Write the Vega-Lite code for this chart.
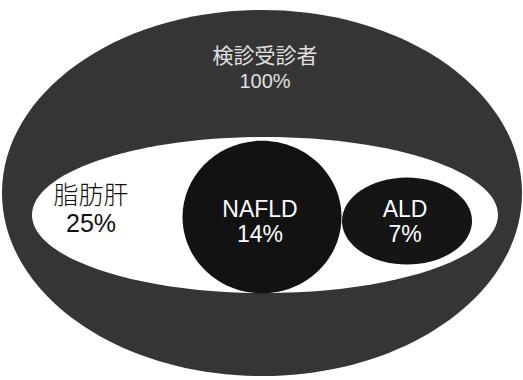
{
  "$schema": "https://vega.github.io/schema/vega-lite/v6.json",
  "width": 523,
  "height": 380,
  "padding": 0,
  "autosize": {"type": "fit", "contains": "padding"},
  "background": "white",
  "config": {"view": {"stroke": null}},
  "data": {
    "values": [
      {"group": "検診受診者", "pct": "100%", "cx": 262, "cy": 193, "tx": 265, "ty": 63},
      {"group": "脂肪肝", "pct": "25%", "cx": 265, "cy": 215, "tx": 91, "ty": 204},
      {"group": "NAFLD", "pct": "14%", "cx": 262, "cy": 217, "tx": 260, "ty": 217},
      {"group": "ALD", "pct": "7%", "cx": 407, "cy": 221, "tx": 405, "ty": 217}
    ]
  },
  "encoding": {
    "x": {"field": "cx", "type": "quantitative", "scale": {"domain": [0, 523], "nice": false, "zero": false}, "axis": null},
    "y": {"field": "cy", "type": "quantitative", "scale": {"domain": [380, 0], "nice": false, "zero": false}, "axis": null}
  },
  "layer": [
    {
      "transform": [{"filter": "datum.group === '検診受診者'"}],
      "mark": {"type": "point", "filled": true, "fill": "#353535", "stroke": null, "opacity": 1, "size": 270400, "shape": "M-1,0A1,0.704 0 1,0 1,0A1,0.704 0 1,0 -1,0"}
    },
    {
      "transform": [{"filter": "datum.group === '脂肪肝'"}],
      "mark": {"type": "point", "filled": true, "fill": "#ffffff", "stroke": null, "opacity": 1, "size": 217156, "shape": "M-1,0A1,0.335 0 1,0 1,0A1,0.335 0 1,0 -1,0"}
    },
    {
      "transform": [{"filter": "datum.group === 'NAFLD'"}],
      "mark": {"type": "point", "filled": true, "fill": "#121212", "stroke": null, "opacity": 1, "size": 25281, "shape": "M-1,0A1,0.96 0 1,0 1,0A1,0.96 0 1,0 -1,0"}
    },
    {
      "transform": [{"filter": "datum.group === 'ALD'"}],
      "mark": {"type": "point", "filled": true, "fill": "#151515", "stroke": null, "opacity": 1, "size": 16900, "shape": "M-1,0A1,0.67 0 1,0 1,0A1,0.67 0 1,0 -1,0"}
    },
    {
      "transform": [{"filter": "datum.group === '検診受診者'"}],
      "mark": {"type": "text", "font": "Noto Sans CJK JP", "fontSize": 21, "color": "#e0e0e0", "baseline": "alphabetic"},
      "encoding": {"x": {"field": "tx", "type": "quantitative"}, "y": {"field": "ty", "type": "quantitative"}, "text": {"field": "group"}}
    },
    {
      "transform": [{"filter": "datum.group === '検診受診者'"}],
      "mark": {"type": "text", "font": "Liberation Sans", "fontSize": 20, "color": "#e0e0e0", "baseline": "alphabetic", "dy": 25},
      "encoding": {"x": {"field": "tx", "type": "quantitative"}, "y": {"field": "ty", "type": "quantitative"}, "text": {"field": "pct"}}
    },
    {
      "transform": [{"filter": "datum.group === '脂肪肝'"}],
      "mark": {"type": "text", "font": "Noto Sans CJK JP", "fontSize": 25, "fontWeight": 300, "color": "#111111", "baseline": "alphabetic"},
      "encoding": {"x": {"field": "tx", "type": "quantitative"}, "y": {"field": "ty", "type": "quantitative"}, "text": {"field": "group"}}
    },
    {
      "transform": [{"filter": "datum.group === '脂肪肝'"}],
      "mark": {"type": "text", "font": "Liberation Sans", "fontSize": 25, "color": "#111111", "baseline": "alphabetic", "dy": 28},
      "encoding": {"x": {"field": "tx", "type": "quantitative"}, "y": {"field": "ty", "type": "quantitative"}, "text": {"field": "pct"}}
    },
    {
      "transform": [{"filter": "datum.group === 'NAFLD' || datum.group === 'ALD'"}],
      "mark": {"type": "text", "font": "Liberation Sans", "fontSize": 23, "color": "#ffffff", "baseline": "alphabetic"},
      "encoding": {"x": {"field": "tx", "type": "quantitative"}, "y": {"field": "ty", "type": "quantitative"}, "text": {"field": "group"}}
    },
    {
      "transform": [{"filter": "datum.group === 'NAFLD' || datum.group === 'ALD'"}],
      "mark": {"type": "text", "font": "Liberation Sans", "fontSize": 23, "color": "#ffffff", "baseline": "alphabetic", "dy": 25},
      "encoding": {"x": {"field": "tx", "type": "quantitative"}, "y": {"field": "ty", "type": "quantitative"}, "text": {"field": "pct"}}
    }
  ]
}
